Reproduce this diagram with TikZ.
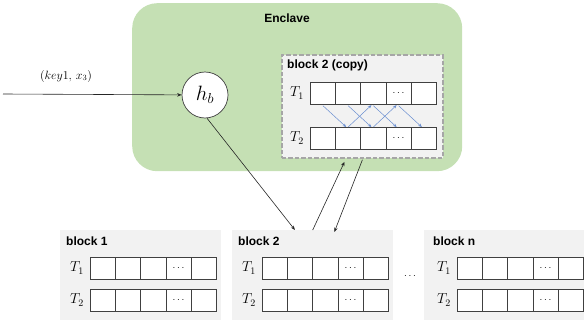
\documentclass[tikz,border=0pt]{standalone}
\usepackage{fontspec}
\setsansfont{Liberation Sans}
\usetikzlibrary{arrows.meta,calc}
\definecolor{encgreen}{HTML}{C5E0B4}
\definecolor{blkgray}{HTML}{F2F2F2}
\definecolor{dashgray}{HTML}{A6A6A6}
\definecolor{celledge}{HTML}{404040}
\definecolor{bluearr}{HTML}{4472C4}
\tikzset{
  cellbox/.style={draw=celledge, line width=0.7pt, fill=white, minimum width=25.2pt, minimum height=21.5pt, inner sep=0pt, anchor=north west, font=\fontsize{10}{11}\selectfont},
  blockbox/.style={fill=blkgray, draw=none, anchor=north west, inner sep=0pt, minimum width=161pt, minimum height=90pt},
  blocklabel/.style={font=\sffamily\bfseries\fontsize{12}{14}\selectfont, anchor=west, inner sep=0pt},
  rowlabel/.style={font=\fontsize{14}{16}\selectfont, anchor=center, inner sep=0pt},
  blkarrow/.style={draw=black!85, line width=0.6pt, -{Stealth[length=4.5pt,width=3.5pt]}},
  bluearrow/.style={draw=bluearr!80, line width=0.5pt, -{Stealth[length=3.5pt,width=3pt]}},
}
\begin{document}
\begin{tikzpicture}[x=1pt,y=-1pt]
\useasboundingbox (0,0) rectangle (585,324);
% enclave
\node[fill=encgreen, rounded corners=25pt, anchor=north west, minimum width=330pt, minimum height=168pt, inner sep=0pt] (enc) at (132,3) {};
\node[font=\sffamily\bfseries\fontsize{12}{14}\selectfont] (enclbl) at (287,18) {Enclave};
% copy box
\node[blockbox, draw=dashgray, line width=1.8pt, dash pattern=on 4.5pt off 2pt, minimum height=103pt] (cpy) at (281,54) {};
\node[blocklabel] (cpylbl) at (287,65) {block 2 (copy)};
% bottom blocks
\node[blockbox] (blk1) at (60,230) {};
\node[blockbox] (blk2) at (232,230) {};
\node[blockbox, minimum width=160pt] (blkn) at (424,230) {};
\node[blocklabel] (lbl1) at (66,241) {block 1};
\node[blocklabel] (lbl2) at (238,241) {block 2};
\node[blocklabel] (lbln) at (433,241) {block n};
% cell rows
\foreach \nm/\xo/\ya/\yb/\lx in {c/310/82/127/297, a/90/257/289/77, b/262/257/289/249, n/457/257/289/444}{
  \foreach \i in {1,...,5}{
    \pgfmathsetmacro{\cx}{\xo+(\i-1)*25.2}
    \ifnum\i=4
      \node[cellbox] (\nm t1\i) at (\cx,\ya) {$\cdots$};
      \node[cellbox] (\nm t2\i) at (\cx,\yb) {$\cdots$};
    \else
      \node[cellbox] (\nm t1\i) at (\cx,\ya) {};
      \node[cellbox] (\nm t2\i) at (\cx,\yb) {};
    \fi
  }
  \node[rowlabel] (\nm l1) at (\lx,\ya+11) {$T_1$};
  \node[rowlabel] (\nm l2) at (\lx,\yb+11) {$T_2$};
}
\node[font=\fontsize{10}{11}\selectfont] (gap) at (410,276) {$\cdots$};
% blue cross arrows
\foreach \i/\j in {1/2,2/3,3/4,4/5}{
  \draw[bluearrow] ([yshift=-1.5pt]ct1\i.south) -- ([xshift=-2pt]ct2\j.north);
}
\foreach \i/\j in {2/3,3/4}{
  \draw[bluearrow] (ct2\i.north) -- ([xshift=-2pt,yshift=-1pt]ct1\j.south);
}
% h_b
\node[circle, draw=celledge, line width=0.7pt, fill=white, minimum size=46pt, inner sep=0pt, font=\fontsize{20}{22}\selectfont] (hb) at (205,95) {$h_b$};
\coordinate (in) at (3,94);
\draw[blkarrow] (in) -- (hb);
\node[font=\fontsize{12}{13}\selectfont] (inlbl) at (66,76) {$(key1,\,x_3)$};
% connectors
\coordinate (b2a) at ($(blk2.north west)!0.39!(blk2.north east)$);
\coordinate (b2b) at ($(blk2.north west)!0.5!(blk2.north east)$);
\coordinate (b2c) at ($(blk2.north west)!0.634!(blk2.north east)$);
\coordinate (cpa) at ($(cpy.south west)!0.39!(cpy.south east)+(0,3)$);
\coordinate (cpb) at ($(cpy.south west)!0.5!(cpy.south east)+(0,1)$);
\draw[blkarrow] (hb.-85) -- (b2a);
\draw[blkarrow] (b2b) -- (cpa);
\draw[blkarrow] (cpb) -- ([yshift=-2pt]b2c);
\end{tikzpicture}
\end{document}
